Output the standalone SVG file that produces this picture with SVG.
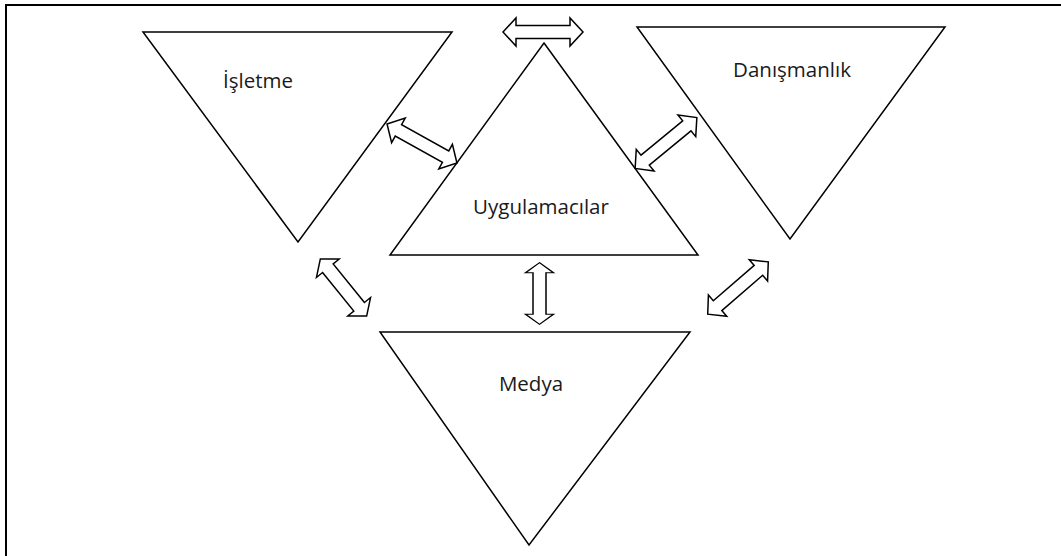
<svg xmlns="http://www.w3.org/2000/svg" width="1061" height="556" viewBox="0 0 1061 556">
  <style>
    .tri { fill: #ffffff; stroke: #000000; stroke-width: 1.5; stroke-linejoin: miter; }
    .arrow { fill: #ffffff; stroke: #000000; stroke-width: 1.5; stroke-linejoin: miter; }
    .label { font-family: "Open Sans", "Liberation Sans", sans-serif; font-size: 20.5px; fill: #1a1a1a; text-anchor: middle; }
  </style>
  <defs>
    <!-- double-headed block arrow, 80 long, centred on the origin, pointing along x -->
    <path id="dbl" d="M -40 0 L -27 -14 L -27 -6.5 L 27 -6.5 L 27 -14 L 40 0 L 27 14 L 27 6.5 L -27 6.5 L -27 14 Z"/>
  </defs>

  <rect width="1061" height="556" fill="#ffffff"/>
  <!-- frame: only top and left edges fall inside the canvas -->
  <path d="M 6 556 L 6 5 L 1061 5" fill="none" stroke="#000000" stroke-width="2"/>

  <g id="isletme">
    <polygon class="tri" points="143,32 452,32 298,242"/>
    <text class="label" x="258" y="88">İşletme</text>
  </g>

  <g id="danismanlik">
    <polygon class="tri" points="637,27 945,27 790,239"/>
    <text class="label" x="792" y="77">Danışmanlık</text>
  </g>

  <g id="uygulamacilar">
    <polygon class="tri" points="544,43 698,255 390,255"/>
    <text class="label" x="541" y="214">Uygulamacılar</text>
  </g>

  <g id="medya">
    <polygon class="tri" points="380,332 690,332 529,545"/>
    <text class="label" x="531" y="391">Medya</text>
  </g>

  <g id="connectors">
    <use href="#dbl" class="arrow" transform="translate(543,32)"/>
    <use href="#dbl" class="arrow" transform="translate(422,143.5) rotate(29.1)"/>
    <use href="#dbl" class="arrow" transform="translate(666,143) rotate(-39.5)"/>
    <use href="#dbl" class="arrow" transform="translate(343.5,287.5) rotate(51) scale(0.92,1.05)"/>
    <use href="#dbl" class="arrow" transform="translate(539.5,293.5) rotate(90) scale(0.77,1)"/>
    <use href="#dbl" class="arrow" transform="translate(738,288) rotate(-40.8)"/>
  </g>
</svg>
